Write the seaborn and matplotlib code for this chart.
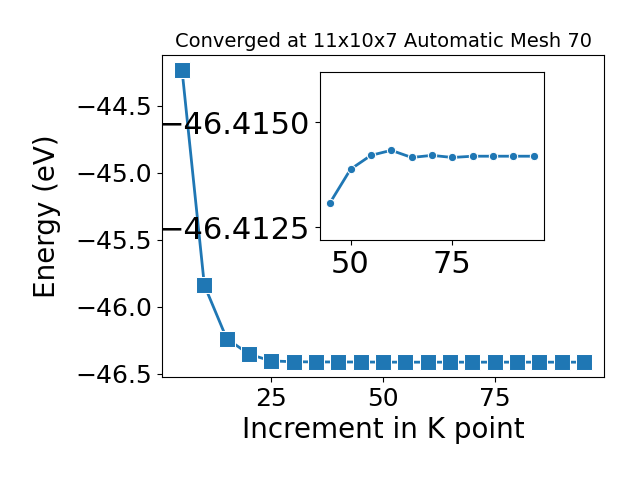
import pandas as pd
import numpy as np
import seaborn as sns
import matplotlib.pyplot as plt

kpoints = [5, 10, 15, 20, 25, 30, 35, 40, 45, 50, 55, 60, 65, 70, 75, 80, 85, 90, 95]
energy = [-44.232, -45.84, -46.238, -46.355, -46.405, -46.411, -46.4125, -46.4128,
          -46.41309, -46.41388, -46.41421, -46.41433, -46.41416, -46.41421,
          -46.41416, -46.41419, -46.41419, -46.41419, -46.41419]

data = pd.DataFrame({"k": kpoints, "E": energy})
zoom = data[data["k"] >= 45]

fig = plt.figure(figsize=(6.4, 4.8), dpi=100)
ax = fig.add_axes([0.253, 0.215, 0.691, 0.670])
sns.lineplot(x="k", y="E", data=data, ax=ax, marker="s", markersize=11,
             linewidth=2, color="#1f77b4")
ax.set_xlabel("Increment in K point", fontsize=20)
ax.set_ylabel("Energy (eV)", fontsize=20, labelpad=10)
ax.set_title("Converged at 11x10x7 Automatic Mesh 70", fontsize=14)
ax.tick_params(labelsize=18)
ax.set_xticks([25, 50, 75])
ax.set_yticks([-44.5, -45.0, -45.5, -46.0, -46.5])

# inset zoom on the converged tail
ins = fig.add_axes([0.5, 0.5, 0.35, 0.35])
sns.lineplot(x="k", y="E", data=zoom, ax=ins, marker="o", markersize=6,
             linewidth=2, color="#1f77b4")
ins.set_ylim(-46.4122, -46.41619)
ins.set_yticks([-46.4150, -46.4125])
ins.set_xticks([50, 75])
ins.ticklabel_format(axis="y", useOffset=False)
ins.tick_params(labelsize=22)
ins.set_xlabel("")
ins.set_ylabel("")

fig.savefig("out.png", dpi=100)
